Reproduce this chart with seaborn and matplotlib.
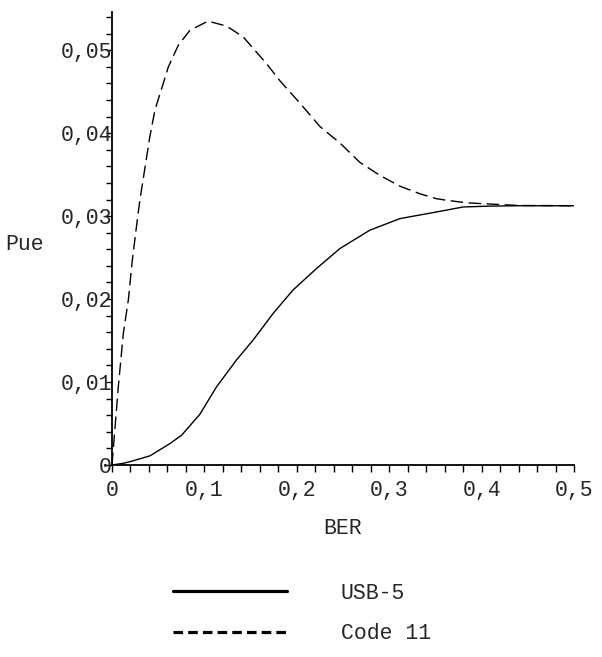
import matplotlib
matplotlib.use("Agg")
import matplotlib.pyplot as plt
import seaborn as sns
import pandas as pd
from matplotlib.lines import Line2D
from matplotlib.ticker import MultipleLocator, FuncFormatter

sns.set_style("white")
plt.rcParams['font.family'] = ['Liberation Mono', 'DejaVu Sans']

# Data
ber_usb5 = [0, 0.012, 0.0195, 0.041, 0.063, 0.0754, 0.095, 0.113, 0.135, 0.153,
            0.1746, 0.196, 0.2215, 0.2468, 0.279, 0.3117, 0.3514, 0.380, 0.408,
            0.44, 0.5]
pue_usb5 = [0, 0.0002, 0.0004, 0.0011, 0.0026, 0.0036, 0.0061, 0.0094, 0.0127,
            0.0151, 0.0183, 0.0211, 0.0237, 0.0261, 0.0283, 0.0297, 0.0305,
            0.0311, 0.0312, 0.03125, 0.03125]

ber_code11 = [0, 0.0068, 0.0123, 0.0177, 0.022, 0.026, 0.030, 0.041, 0.0465,
              0.0538, 0.061, 0.0718, 0.0844, 0.104, 0.124, 0.142, 0.167, 0.1818,
              0.2035, 0.225, 0.2468, 0.268, 0.29, 0.3117, 0.333, 0.351, 0.3626,
              0.384, 0.409, 0.44, 0.5]
pue_code11 = [0, 0.0094, 0.0159, 0.0199, 0.0247, 0.0283, 0.0318, 0.0396, 0.0428,
              0.0454, 0.048, 0.0506, 0.0524, 0.0535, 0.0529, 0.0516, 0.0484,
              0.0463, 0.0436, 0.0408, 0.0388, 0.0365, 0.0349, 0.0336, 0.0327,
              0.0321, 0.0319, 0.0316, 0.03145, 0.03128, 0.03125]

series_names = ["USB-5", "Code 11"]
x_ticks = [0, 0.1, 0.2, 0.3, 0.4, 0.5]
y_ticks = [0, 0.01, 0.02, 0.03, 0.04, 0.05]

df_usb = pd.DataFrame({"BER": ber_usb5, "Pue": pue_usb5})
df_c11 = pd.DataFrame({"BER": ber_code11, "Pue": pue_code11})

fig = plt.figure(figsize=(6.02, 6.57), dpi=100)
ax = fig.add_axes([112 / 602, 1 - 465 / 657, 462 / 602, 453 / 657])

sns.lineplot(data=df_usb, x="BER", y="Pue", ax=ax, color="black", linewidth=1.0)
sns.lineplot(data=df_c11, x="BER", y="Pue", ax=ax, color="black", linewidth=1.0)
ax.lines[-1].set_dashes((9, 4))

ax.set_xlim(0, 0.5)
ax.set_ylim(0, 0.0546)

for s in ["top", "right"]:
    ax.spines[s].set_visible(False)
for s in ["left", "bottom"]:
    ax.spines[s].set_color("black")
    ax.spines[s].set_linewidth(1.3)

fs = 15.5
ax.set_xticks(x_ticks)
ax.set_yticks(y_ticks)
ax.xaxis.set_minor_locator(MultipleLocator(0.02))
ax.yaxis.set_minor_locator(MultipleLocator(0.002))
fmt = FuncFormatter(lambda v, p: ("%g" % round(v, 4)).replace(".", ","))
ax.xaxis.set_major_formatter(fmt)
ax.yaxis.set_major_formatter(fmt)
ax.tick_params(axis="x", which="both", direction="out", length=5, width=1.0,
               color="black", bottom=True)
ax.tick_params(axis="y", which="both", direction="out", length=4.5, width=1.0,
               color="black", left=True)
ax.tick_params(axis="x", which="major", labelsize=fs, pad=6)
ax.tick_params(axis="y", which="major", labelsize=fs, pad=-4.5)

ax.set_xlabel("BER", fontsize=fs, va="center")
ax.xaxis.set_label_coords(0.5, (465 - 528) / 453)
ax.set_ylabel("Pue", fontsize=fs, rotation=0, va="center", ha="center")
ax.yaxis.set_label_coords((25 - 112) / 462, (465 - 244) / 453)

handles = [Line2D([], [], color="black", linewidth=2.3),
           Line2D([], [], color="black", linewidth=2.3, dashes=(3, 1.6))]
fig.legend(handles, series_names, loc="upper left",
           bbox_to_anchor=(173 / 602, 1 - 583 / 657), frameon=False,
           fontsize=fs, handlelength=5.3, handletextpad=2.5, borderpad=0,
           borderaxespad=0, labelspacing=0.9)

fig.savefig("out.png", dpi=100)
